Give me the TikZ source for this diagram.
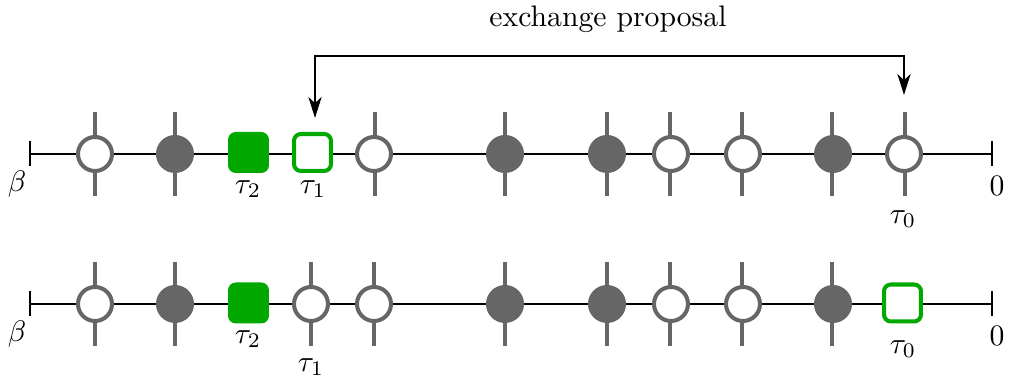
\documentclass[tikz,border=0pt]{standalone}
\usetikzlibrary{arrows.meta}
\definecolor{tickgray}{RGB}{102,102,102}
\definecolor{boxgreen}{RGB}{0,168,0}
\begin{document}
\begin{tikzpicture}[x=0.3367pt,y=-0.3367pt,
  axis/.style={line width=1pt,black},
  spoke/.style={line width=1.15pt,draw=tickgray},
  opencirc/.style={circle,draw=tickgray,fill=white,line width=1.35pt,inner sep=0pt,minimum size=11.45pt},
  fullcirc/.style={circle,fill=tickgray,inner sep=0pt,minimum size=12.8pt},
  gsolid/.style={rectangle,rounded corners=2.6pt,fill=boxgreen,inner sep=0pt,minimum size=13.8pt},
  ghollow/.style={rectangle,rounded corners=2.3pt,draw=boxgreen,fill=white,line width=1.35pt,inner sep=0pt,minimum size=12.45pt},
  lab/.style={inner sep=0pt},
  swap/.style={line width=1pt,black,{Stealth[length=7pt,width=4.4pt,inset=2pt]}-{Stealth[length=7pt,width=4.4pt,inset=2pt]}}
]
\useasboundingbox (0,0) rectangle (1010,381);

% ---------- upper row ----------
\foreach \x in {95,175,375,505,607,670,742,832,905}
  \draw[spoke] (\x,112) -- (\x,196);
\coordinate (ub) at (30,154);
\coordinate (uz) at (992,154);
\draw[axis] (ub) -- (uz);
\draw[axis] (ub) ++(0,-12.5) -- ++(0,25);
\draw[axis] (uz) ++(0,-12.5) -- ++(0,25);
\node[opencirc] (u1) at (95,154) {};
\node[fullcirc] (u2) at (175,154) {};
\node[gsolid]   (u3) at (248.5,152.5) {};
\node[ghollow]  (u4) at (312.5,152.5) {};
\node[opencirc] (u5) at (374,154) {};
\node[fullcirc] (u6) at (505,154) {};
\node[fullcirc] (u7) at (607,154) {};
\node[opencirc] (u8) at (671,154) {};
\node[opencirc] (u9) at (743,154) {};
\node[fullcirc] (u10) at (833,154) {};
\node[opencirc] (u11) at (904,154) {};
\node[lab] (ubeta) at (17,184) {$\beta$};
\node[lab] (uzero) at (997,186) {$0$};
\node[lab] (ut2) at (248,189) {$\tau_2$};
\node[lab] (ut1) at (313,189) {$\tau_1$};
\node[lab] (ut0) at (903,219) {$\tau_0$};

% exchange arrow
\coordinate (al) at (315,118);
\coordinate (ar) at (904,95);
\coordinate (atop) at (600,56);
\draw[swap] (al) |- (atop) -| (ar);
\node[lab] (alabel) at (608,19) {exchange proposal};

% ---------- lower row ----------
\foreach \x in {95,175,311,374,505,607,670,742,832}
  \draw[spoke] (\x,262) -- (\x,346);
\coordinate (lb) at (30,304);
\coordinate (lz) at (992,304);
\draw[axis] (lb) -- (lz);
\draw[axis] (lb) ++(0,-12.5) -- ++(0,25);
\draw[axis] (lz) ++(0,-12.5) -- ++(0,25);
\node[opencirc] (l1) at (95,304) {};
\node[fullcirc] (l2) at (175,304) {};
\node[gsolid]   (l3) at (248.5,303) {};
\node[opencirc] (l4) at (311,304) {};
\node[opencirc] (l5) at (374,304) {};
\node[fullcirc] (l6) at (505,304) {};
\node[fullcirc] (l7) at (607,304) {};
\node[opencirc] (l8) at (671,304) {};
\node[opencirc] (l9) at (743,304) {};
\node[fullcirc] (l10) at (833,304) {};
\node[ghollow]  (l11) at (902.5,303) {};
\node[lab] (lbeta) at (17,334) {$\beta$};
\node[lab] (lzero) at (997,336) {$0$};
\node[lab] (lt2) at (248,339) {$\tau_2$};
\node[lab] (lt1) at (311,367) {$\tau_1$};
\node[lab] (lt0) at (903,349) {$\tau_0$};
\end{tikzpicture}
\end{document}
